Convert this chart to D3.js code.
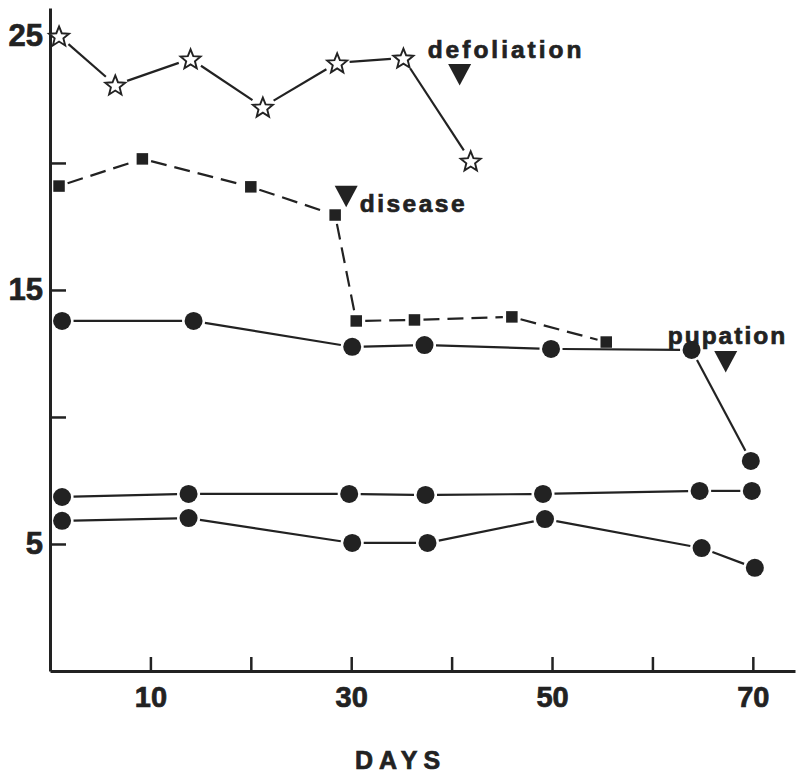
<!DOCTYPE html>
<html>
<head>
<meta charset="utf-8">
<script src="https://cdn.jsdelivr.net/npm/d3@7"></script>
<style>
  html, body { margin: 0; padding: 0; background: #fff; }
  svg { display: block; }
  text { font-family: "Liberation Sans", Arial, Helvetica, sans-serif; font-weight: bold; fill: #222; stroke: #222; stroke-width: 0.7; }
</style>
</head>
<body>
<svg id="chart" width="796" height="776"></svg>
<script>
// ---- data ----
const starDays   = [0.9, 6.5, 14.0, 21.2, 28.6, 35.2, 41.9];
const starValues = [25.0, 23.07, 24.1, 22.2, 23.94, 24.13, 20.08];

const squareDays   = [0.9, 9.2, 20.0, 28.4, 30.5, 36.3, 46.0, 55.4];
const squareValues = [19.09, 20.16, 19.06, 17.95, 13.78, 13.82, 13.94, 12.95];

const circleADays   = [1.2, 14.3, 30.1, 37.3, 49.9, 63.9, 69.8];
const circleAValues = [13.78, 13.78, 12.76, 12.83, 12.68, 12.64, 8.27];

const circleBDays   = [1.2, 13.8, 29.8, 37.4, 49.1, 64.7, 69.9];
const circleBValues = [6.85, 6.97, 6.97, 6.93, 6.97, 7.09, 7.09];

const circleCDays   = [1.2, 13.8, 30.1, 37.6, 49.3, 64.9, 70.2];
const circleCValues = [5.91, 6.02, 5.04, 5.04, 5.98, 4.84, 4.06];

const eventLabels = ["defoliation", "disease", "pupation"];
const eventDays   = [40.8, 29.5, 67.3];
const eventValues = [23.9, 19.1, 12.6];

const xTicks = [10, 20, 30, 40, 50, 60, 70];
const xTickLabels = [10, 30, 50, 70];
const yTicks = [5, 10, 15, 20, 25];
const yTickLabels = [5, 15, 25];
const xTitle = "DAYS";

// ---- scales ----
const svg = d3.select("#chart");
const x = d3.scaleLinear().domain([0, 74.2]).range([50, 795]);
const y = d3.scaleLinear().domain([0, 26.1]).range([671, 8]);
const ink = "#222";

// ---- axes ----
const xAxis = d3.axisBottom(x).tickValues(xTicks).tickSize(-14).tickSizeOuter(0).tickPadding(15)
  .tickFormat(d => xTickLabels.includes(d) ? d : "");
const gx = svg.append("g").attr("transform", `translate(0,${y(0)})`).call(xAxis);
gx.select(".domain").attr("stroke", ink).attr("stroke-width", 3);
gx.selectAll(".tick line").attr("stroke", ink).attr("stroke-width", 2.5);
gx.selectAll(".tick text").attr("font-size", 29).attr("fill", ink)
  .style("font-family", '"Liberation Sans", Arial, sans-serif').style("font-weight", "bold");

const yAxis = d3.axisLeft(y).tickValues(yTicks).tickSize(-16).tickSizeOuter(0).tickPadding(7)
  .tickFormat(d => yTickLabels.includes(d) ? d : "");
const gy = svg.append("g").attr("transform", `translate(${x(0)},0)`).call(yAxis);
gy.select(".domain").attr("stroke", ink).attr("stroke-width", 3);
gy.selectAll(".tick line").attr("stroke", ink).attr("stroke-width", 2.5)
  .attr("display", d => d === 25 ? "none" : null);
gy.selectAll(".tick text").attr("font-size", 31).attr("fill", ink)
  .style("font-family", '"Liberation Sans", Arial, sans-serif').style("font-weight", "bold");

svg.append("text").attr("x", 355).attr("y", 769).attr("font-size", 25)
  .attr("letter-spacing", 6).text(xTitle);

// ---- series helpers ----
function pts(days, vals) { return days.map((d, i) => [x(d), y(vals[i])]); }

function drawSegments(points, r, gap, dash) {
  const segs = [];
  for (let i = 0; i < points.length - 1; i++) {
    const [x1, y1] = points[i], [x2, y2] = points[i + 1];
    const dx = x2 - x1, dy = y2 - y1, L = Math.hypot(dx, dy);
    const ux = dx / L, uy = dy / L, s = r + gap;
    segs.push([x1 + ux * s, y1 + uy * s, x2 - ux * s, y2 - uy * s]);
  }
  svg.append("g").selectAll("line").data(segs).join("line")
    .attr("x1", d => d[0]).attr("y1", d => d[1]).attr("x2", d => d[2]).attr("y2", d => d[3])
    .attr("stroke", ink).attr("stroke-width", 2.2)
    .attr("stroke-dasharray", dash || null);
}

function starPath(R, r) {
  const p = [];
  for (let i = 0; i < 10; i++) {
    const a = -Math.PI / 2 + i * Math.PI / 5;
    const rad = i % 2 === 0 ? R : r;
    p.push([rad * Math.cos(a), rad * Math.sin(a)]);
  }
  return "M" + p.map(q => q.join(",")).join("L") + "Z";
}

// stars
const sp = pts(starDays, starValues);
drawSegments(sp, 9.5, 3);
svg.append("g").selectAll("path").data(sp).join("path")
  .attr("d", starPath(10.5, 4.6))
  .attr("transform", d => `translate(${d[0]},${d[1] + 1})`)
  .attr("fill", "#fff").attr("stroke", ink).attr("stroke-width", 1.9).attr("stroke-linejoin", "miter");

// squares
const qp = pts(squareDays, squareValues);
drawSegments(qp, 6, 3, "16,8");
svg.append("g").selectAll("rect").data(qp).join("rect")
  .attr("x", d => d[0] - 5.75).attr("y", d => d[1] - 5.75)
  .attr("width", 11.5).attr("height", 11.5).attr("fill", ink);

// circles
[[circleADays, circleAValues], [circleBDays, circleBValues], [circleCDays, circleCValues]].forEach(([ds, vs]) => {
  const cp = pts(ds, vs);
  drawSegments(cp, 9, 2.5);
  svg.append("g").selectAll("circle").data(cp).join("circle")
    .attr("cx", d => d[0]).attr("cy", d => d[1]).attr("r", 9).attr("fill", ink);
});

// ---- event annotations ----
const labelOffsets = [[-32, -6, 3], [13.5, 26, 2.5], [-58, -7, 2]];
eventLabels.forEach((lab, i) => {
  const cx = x(eventDays[i]), ty = y(eventValues[i]);
  svg.append("path")
    .attr("d", `M${cx - 11.5},${ty}L${cx + 11.5},${ty}L${cx},${ty + 21.5}Z`)
    .attr("fill", ink);
  const [ox, oy, ls] = labelOffsets[i];
  svg.append("text").attr("x", cx + ox).attr("y", ty + oy)
    .attr("font-size", 24.5).attr("letter-spacing", ls).text(lab);
});
</script>
</body>
</html>
